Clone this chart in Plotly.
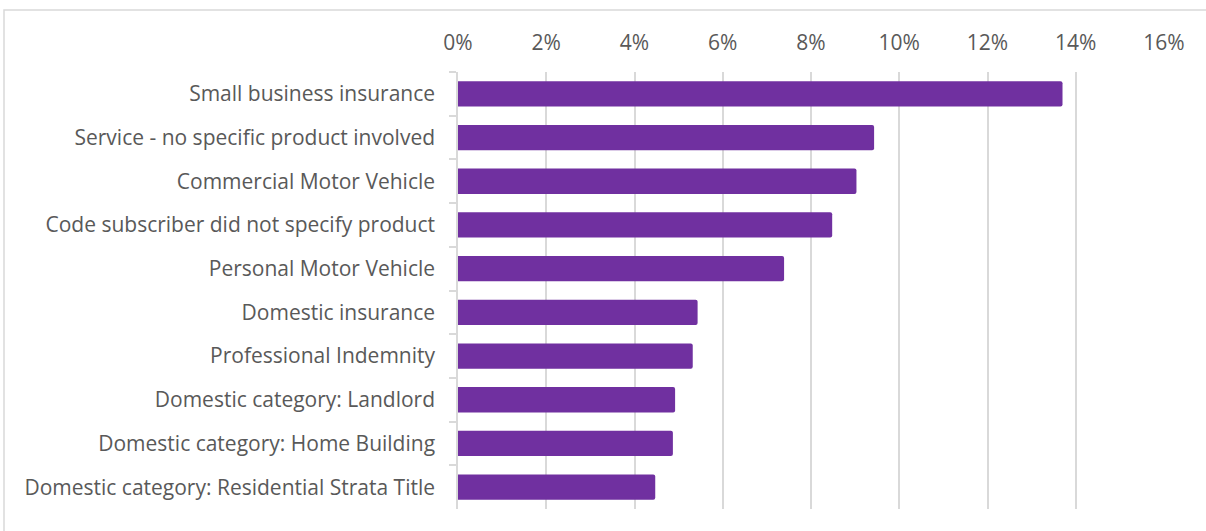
import plotly.graph_objects as go

# Complaint share by product line
categories = [
    "Small business insurance",
    "Service - no specific product involved",
    "Commercial Motor Vehicle",
    "Code subscriber did not specify product",
    "Personal Motor Vehicle",
    "Domestic insurance",
    "Professional Indemnity",
    "Domestic category: Landlord",
    "Domestic category: Home Building",
    "Domestic category: Residential Strata Title",
]
shares = [0.1370, 0.0943, 0.0903, 0.0848, 0.0739, 0.0543, 0.0532, 0.0492, 0.0487, 0.0447]
x_ticks = [0, 0.02, 0.04, 0.06, 0.08, 0.10, 0.12, 0.14, 0.16]
x_tick_text = ["0%", "2%", "4%", "6%", "8%", "10%", "12%", "14%", "16%"]

W, H = 1206, 531
ML, MR, MT, MB = 458, 42, 72, 22
PW, PH = W - ML - MR, H - MT - MB

LABEL_FONT = dict(family="'Open Sans', sans-serif", size=21, color="#595959")
GRID = "#d9d9d9"

fig = go.Figure(
    go.Bar(
        x=shares,
        y=categories,
        orientation="h",
        width=0.58,
        marker=dict(color="#7030A0", line=dict(width=0)),
        hoverinfo="skip",
    )
)

fig.update_layout(
    width=W,
    height=H,
    margin=dict(l=ML, r=MR, t=MT, b=MB, pad=0),
    paper_bgcolor="white",
    plot_bgcolor="white",
    showlegend=False,
    barcornerradius=2,
    font=LABEL_FONT,
    xaxis=dict(
        side="top",
        range=[0, 0.16],
        tickvals=x_ticks,
        ticktext=x_tick_text,
        showgrid=True,
        gridcolor=GRID,
        gridwidth=1.5,
        zeroline=False,
        showline=False,
        ticks="",
        tickfont=LABEL_FONT,
        ticklabelstandoff=17,
    ),
    yaxis=dict(
        autorange="reversed",
        showgrid=False,
        zeroline=False,
        showline=True,
        linecolor=GRID,
        linewidth=1.5,
        ticks="outside",
        tickson="boundaries",
        ticklen=7,
        tickcolor=GRID,
        tickwidth=1.5,
        tickfont=LABEL_FONT,
        ticklabelstandoff=17,
    ),
)

# Outer chart border (runs off the right and bottom edges)
fig.add_shape(
    type="rect",
    xref="paper",
    yref="paper",
    x0=(4 - ML) / PW,
    x1=(W + 10 - ML) / PW,
    y0=-(MB + 10) / PH,
    y1=(H - MB - 10) / PH,
    line=dict(color=GRID, width=1.5),
    fillcolor="rgba(0,0,0,0)",
    layer="below",
)

fig.write_html("out.html")
